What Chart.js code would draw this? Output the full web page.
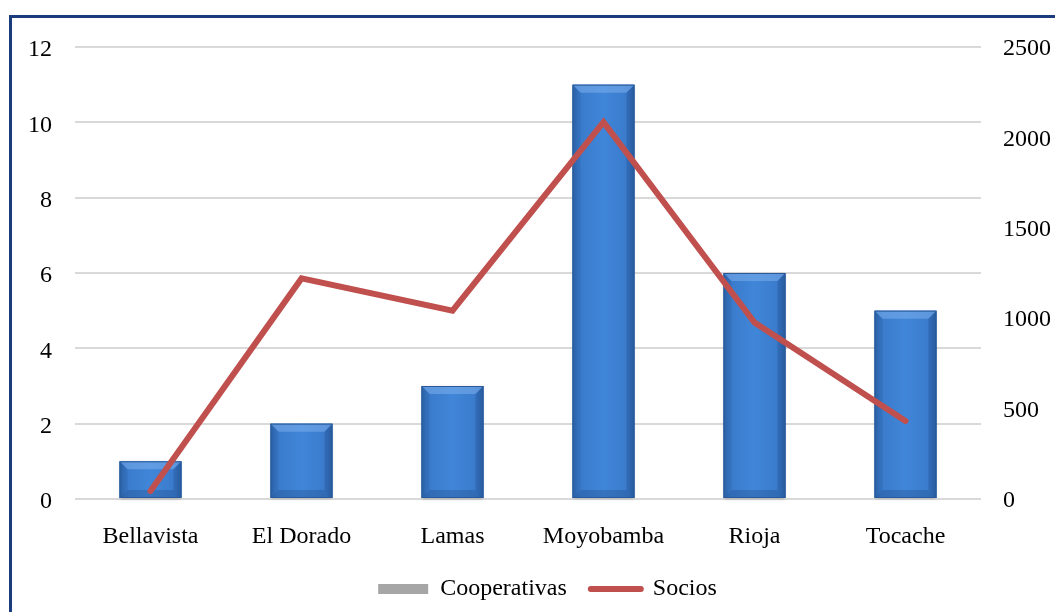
<!DOCTYPE html>
<html>
<head>
<meta charset="utf-8">
<script src="https://cdn.jsdelivr.net/npm/chart.js@4/dist/chart.umd.min.js"></script>
<style>
  html, body { margin: 0; padding: 0; background: #ffffff; overflow: hidden; }
  #frame { position: absolute; left: 9px; top: 15px; width: 1100px; height: 700px; border: 3px solid #1b3c7c; box-sizing: border-box; }
  #wrap { position: absolute; left: 0; top: 0; width: 1055px; height: 612px; }
</style>
</head>
<body>
<div id="frame"></div>
<div id="wrap"><canvas id="c" width="1055" height="612"></canvas></div>
<script>
const categories = ['Bellavista', 'El Dorado', 'Lamas', 'Moyobamba', 'Rioja', 'Tocache'];
const cooperativas = [1, 2, 3, 11, 6, 5];
const socios = [44, 1220, 1042, 2084, 976, 432];
const leftTicks = [0, 2, 4, 6, 8, 10, 12];
const rightTicks = [0, 500, 1000, 1500, 2000, 2500];

const FONT = "'Liberation Serif', 'Times New Roman', serif";

const bevelPlugin = {
  id: 'bevel',
  afterLayout(chart) {
    if (chart.legend) { chart.legend.left += 20; chart.legend.right += 20; }
  },
  afterDatasetDraw(chart, args) {
    if (args.index !== 0) return;
    const ctx = chart.ctx;
    const meta = args.meta;
    meta.data.forEach(bar => {
      const x0 = bar.x - bar.width / 2, x1 = bar.x + bar.width / 2;
      const y0 = bar.y, y1 = bar.base;
      const w = x1 - x0, h = y1 - y0;
      ctx.save();
      ctx.shadowColor = 'rgba(0,0,0,0.25)';
      ctx.shadowBlur = 3;
      ctx.shadowOffsetY = 1;
      const g = ctx.createLinearGradient(x0, 0, x1, 0);
      g.addColorStop(0, '#2d66ae');
      g.addColorStop(0.1, '#3a7acb');
      g.addColorStop(0.5, '#4086d8');
      g.addColorStop(0.9, '#3a7acb');
      g.addColorStop(1, '#2d66ae');
      ctx.fillStyle = g;
      ctx.fillRect(x0, y0, w, h);
      ctx.shadowColor = 'transparent';
      const b = Math.min(8, h / 3);
      // top bevel
      ctx.fillStyle = 'rgba(130,180,240,0.5)';
      ctx.beginPath();
      ctx.moveTo(x0, y0); ctx.lineTo(x1, y0); ctx.lineTo(x1 - b, y0 + b); ctx.lineTo(x0 + b, y0 + b); ctx.closePath();
      ctx.fill();
      // left bevel
      ctx.fillStyle = 'rgba(30,70,130,0.18)';
      ctx.beginPath();
      ctx.moveTo(x0, y0); ctx.lineTo(x0 + b, y0 + b); ctx.lineTo(x0 + b, y1 - b); ctx.lineTo(x0, y1); ctx.closePath();
      ctx.fill();
      // right bevel
      ctx.fillStyle = 'rgba(20,50,100,0.22)';
      ctx.beginPath();
      ctx.moveTo(x1, y0); ctx.lineTo(x1 - b, y0 + b); ctx.lineTo(x1 - b, y1 - b); ctx.lineTo(x1, y1); ctx.closePath();
      ctx.fill();
      // bottom bevel
      ctx.fillStyle = 'rgba(20,50,100,0.22)';
      ctx.beginPath();
      ctx.moveTo(x0, y1); ctx.lineTo(x0 + b, y1 - b); ctx.lineTo(x1 - b, y1 - b); ctx.lineTo(x1, y1); ctx.closePath();
      ctx.fill();
      ctx.strokeStyle = '#2a5a9a';
      ctx.lineWidth = 1;
      ctx.strokeRect(x0 + 0.5, y0 + 0.5, w - 1, h - 1);
      ctx.restore();
    });
  }
};

const chart = new Chart(document.getElementById('c'), {
  data: {
    labels: categories,
    datasets: [
      {
        type: 'bar',
        label: 'Cooperativas',
        data: cooperativas,
        yAxisID: 'y',
        order: 1,
        backgroundColor: '#3a7bd0',
        borderWidth: 0,
        barPercentage: 0.41,
        categoryPercentage: 1.0
      },
      {
        type: 'line',
        label: 'Socios',
        data: socios,
        yAxisID: 'y1',
        order: 0,
        borderColor: '#c0504d',
        backgroundColor: '#c0504d',
        borderWidth: 6,
        borderCapStyle: 'round',
        borderJoinStyle: 'miter',
        pointRadius: 0,
        pointHoverRadius: 0,
        tension: 0,
        fill: false
      }
    ]
  },
  options: {
    responsive: false,
    animation: false,
    events: [],
    layout: { padding: { top: 47, left: 0, right: 0, bottom: 1 } },
    plugins: {
      tooltip: { enabled: false },
      legend: {
        position: 'bottom',
        labels: {
          usePointStyle: true,
          pointStyleWidth: 50,
          boxHeight: 10,
          padding: 24,
          color: '#000000',
          font: { family: FONT, size: 24 },
          sort: (a, b) => a.datasetIndex - b.datasetIndex,
          generateLabels(chart) {
            return [
              { text: 'Cooperativas', datasetIndex: 0, pointStyle: 'rect', fillStyle: '#a6a6a6', strokeStyle: '#a6a6a6', lineWidth: 0, fontColor: '#000' },
              { text: 'Socios', datasetIndex: 1, pointStyle: 'line', fillStyle: '#c0504d', strokeStyle: '#c0504d', lineWidth: 6, lineCap: 'round', fontColor: '#000' }
            ];
          }
        }
      }
    },
    scales: {
      x: {
        grid: { display: false },
        border: { display: false },
        ticks: { color: '#000', font: { family: FONT, size: 24 }, padding: 15, maxRotation: 0 },
        afterFit(scale) { scale.height = 54; }
      },
      y: {
        position: 'left',
        min: 0, max: 12,
        afterBuildTicks(scale) { scale.ticks = leftTicks.map(v => ({ value: v })); },
        grid: { color: '#d9d9d9', lineWidth: 2, drawTicks: false },
        border: { display: false },
        ticks: { color: '#000', font: { family: FONT, size: 24 }, padding: 23, labelOffset: 3 },
        afterFit(scale) { scale.width = 75; }
      },
      y1: {
        position: 'right',
        min: 0, max: 2500,
        afterBuildTicks(scale) { scale.ticks = rightTicks.map(v => ({ value: v })); },
        grid: { display: false, drawTicks: false },
        border: { display: false },
        ticks: { color: '#000', font: { family: FONT, size: 24 }, padding: 22, labelOffset: 2, callback: v => String(v) },
        afterFit(scale) { scale.width = 74; }
      }
    }
  },
  plugins: [bevelPlugin]
});
</script>
</body>
</html>
